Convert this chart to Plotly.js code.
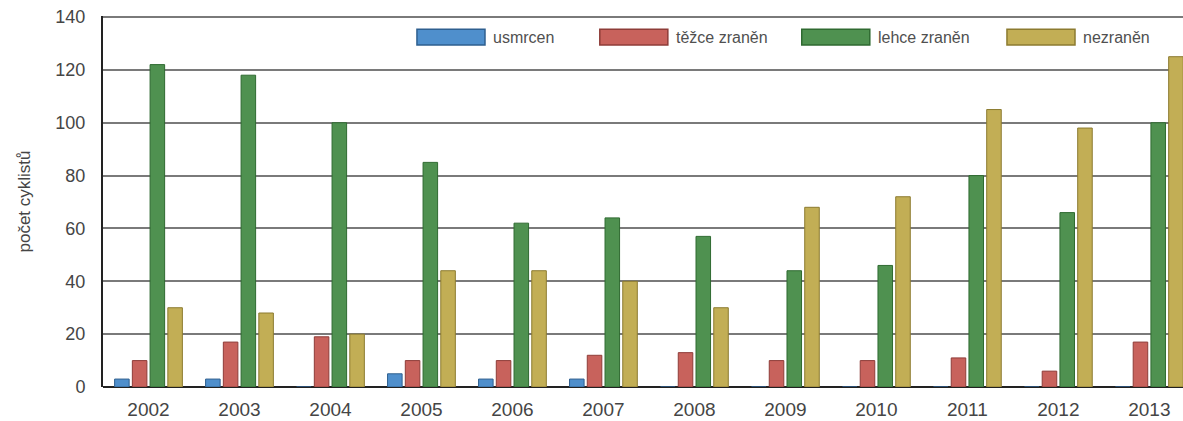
<!DOCTYPE html>
<html><head><meta charset="utf-8">
<script src="https://cdn.plot.ly/plotly-3.0.1.min.js"></script>
<style>html,body{margin:0;padding:0;background:#fff}#chart{width:1183px;height:421px}</style>
</head><body><div id="chart"></div>
<script>
const years = ['2002','2003','2004','2005','2006','2007','2008','2009','2010','2011','2012','2013'];
const usmrcen = [3,3,0,5,3,3,0,0,0,0,0,0];
const tezceZranen = [10,17,19,10,10,12,13,10,10,11,6,17];
const lehceZranen = [122,118,100,85,62,64,57,44,46,80,66,100];
const nezranen = [30,28,20,44,44,40,30,68,72,105,98,125];
const seriesNames = ['usmrcen','těžce zraněn','lehce zraněn','nezraněn'];

const fills = ['#4f8fcc','#c8625c','#4f9150','#c2ae55'];
const edges = ['#2e5f8f','#8e3c38','#2f6a31','#8c7b30'];
const vals = [usmrcen, tezceZranen, lehceZranen, nezranen];

const traces = vals.map((v,i)=>({
  type:'bar', x: years, y: v, name: seriesNames[i], showlegend:false,
  marker:{color: fills[i], line:{color: edges[i], width:1}}
}));

// custom wide legend swatches (paper coordinates)
const legX0 = [0.2907, 0.460, 0.647, 0.837];
const legW = 0.063;
const shapes = [];
const annotations = [];
seriesNames.forEach((n,i)=>{
  shapes.push({type:'rect', xref:'paper', yref:'paper', x0:legX0[i], x1:legX0[i]+legW,
    y0:0.922, y1:0.964, fillcolor:fills[i], line:{color:edges[i], width:1.5}});
  annotations.push({xref:'paper', yref:'paper', x:legX0[i]+legW+0.006, y:0.943,
    xanchor:'left', yanchor:'middle', showarrow:false, text:n,
    font:{size:16, color:'#505050'}});
});

const layout = {
  width:1183, height:421,
  margin:{l:103, r:0, t:16, b:34},
  paper_bgcolor:'#fff', plot_bgcolor:'#fff',
  barmode:'group', bargap:0.22, bargroupgap:0.18,
  font:{family:'Liberation Sans, Arial, sans-serif', color:'#404040'},
  xaxis:{type:'category', range:[-0.5, 11.37], showgrid:false, zeroline:false,
    showline:false, ticks:'', tickfont:{size:19, color:'#454545'}, ticklabelstandoff:9},
  yaxis:{range:[0,140.4], tickvals:[0,20,40,60,80,100,120,140], showgrid:true, gridcolor:'#7a7a7a', gridwidth:2,
    zeroline:true, zerolinecolor:'#222', zerolinewidth:2,
    showline:true, linecolor:'#222', linewidth:2, ticks:'',
    tickfont:{size:18, color:'#454545'}, ticklabelstandoff:12,
    title:{text:'počet cyklistů', font:{size:17, color:'#454545'}, standoff:20}},
  shapes: shapes, annotations: annotations,
  showlegend:false
};
Plotly.newPlot('chart', traces, layout, {displayModeBar:false, staticPlot:true});
</script></body></html>
